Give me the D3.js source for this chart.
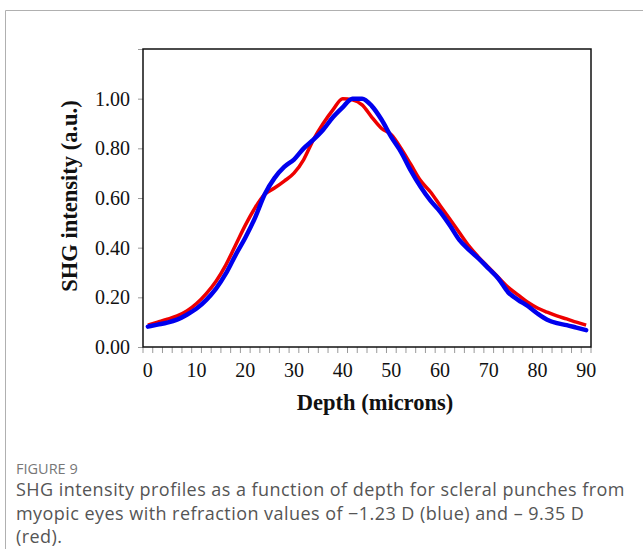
<!DOCTYPE html>
<html>
<head>
<meta charset="utf-8">
<script src="https://cdn.jsdelivr.net/npm/d3@7"></script>
<style>
  body { margin: 0; background: #fff; }
  svg { display: block; }
</style>
</head>
<body>
<svg id="chart" width="643" height="549"></svg>
<script>
// depth in microns, one point every 2 microns
const depths = d3.range(0, 91, 2);
const xLabels = [0, 10, 20, 30, 40, 50, 60, 70, 80, 90];
const yTicks = [0, 0.2, 0.4, 0.6, 0.8, 1.0, 1.2];

// -9.35 D (red)
const redValues = [0.088, 0.10, 0.112, 0.125, 0.145, 0.175, 0.215, 0.265, 0.33, 0.41,
  0.49, 0.56, 0.615, 0.64, 0.668, 0.70, 0.755, 0.835, 0.90, 0.955,
  1.00, 0.995, 0.975, 0.925, 0.88, 0.855, 0.80, 0.735, 0.67, 0.625,
  0.57, 0.515, 0.46, 0.405, 0.36, 0.32, 0.28, 0.24, 0.21, 0.18,
  0.157, 0.14, 0.125, 0.113, 0.10, 0.088];

// -1.23 D (blue)
const blueValues = [0.082, 0.09, 0.098, 0.11, 0.13, 0.155, 0.19, 0.235, 0.295, 0.37,
  0.44, 0.52, 0.615, 0.68, 0.725, 0.755, 0.80, 0.835, 0.875, 0.925,
  0.965, 1.00, 1.00, 0.97, 0.915, 0.845, 0.785, 0.71, 0.645, 0.59,
  0.545, 0.49, 0.43, 0.39, 0.355, 0.315, 0.275, 0.22, 0.19, 0.165,
  0.135, 0.11, 0.096, 0.088, 0.078, 0.068];

const svg = d3.select('#chart');

// outer panel border (top + left)
svg.append('path')
  .attr('d', 'M5.5,549 L5.5,10.5 L643,10.5')
  .attr('fill', 'none')
  .attr('stroke', '#b0b0b0')
  .attr('stroke-width', 1);

const plot = { left: 143, right: 591, top: 49, bottom: 347 };

const x = d3.scaleBand()
  .domain(depths)
  .range([plot.left, plot.right]);

const y = d3.scaleLinear()
  .domain([0, 1.2])
  .range([plot.bottom, plot.top]);

const serif = '"Liberation Serif", "Times New Roman", serif';

// x ticks at category boundaries
const boundaries = depths.map(d => x(d)).concat([plot.right]);
svg.append('g').selectAll('line')
  .data(boundaries)
  .enter()
  .append('line')
  .attr('x1', d => d).attr('x2', d => d)
  .attr('y1', plot.bottom).attr('y2', plot.bottom + 6)
  .attr('stroke', '#9a9a9a')
  .attr('stroke-width', 1);

// x labels
svg.append('g').selectAll('text')
  .data(xLabels)
  .enter()
  .append('text')
  .attr('x', d => x(d) + x.bandwidth() / 2)
  .attr('y', 377)
  .attr('text-anchor', 'middle')
  .attr('font-family', serif)
  .attr('font-size', 20)
  .attr('fill', '#111')
  .text(d => d);

// y axis
const yAxis = d3.axisLeft(y)
  .tickValues(yTicks)
  .tickSize(5)
  .tickFormat(d => d < 1.1 ? d3.format('.2f')(d) : '');
const yg = svg.append('g')
  .attr('transform', `translate(${plot.left},0)`)
  .call(yAxis);
yg.select('.domain').remove();
yg.selectAll('line').attr('stroke', '#9a9a9a');
yg.selectAll('text')
  .attr('font-family', serif)
  .attr('font-size', 20)
  .attr('fill', '#111')
  .attr('x', -13);

// frame
svg.append('rect')
  .attr('x', plot.left)
  .attr('y', plot.top)
  .attr('width', plot.right - plot.left)
  .attr('height', plot.bottom - plot.top)
  .attr('fill', 'none')
  .attr('stroke', '#111')
  .attr('stroke-width', 1.5);

const line = d3.line()
  .x((d, i) => x(depths[i]) + x.bandwidth() / 2)
  .y(d => y(d))
  .curve(d3.curveMonotoneX);

svg.append('path')
  .datum(redValues)
  .attr('d', line)
  .attr('fill', 'none')
  .attr('stroke', '#ee0000')
  .attr('stroke-width', 3.5)
  .attr('stroke-linejoin', 'round');

svg.append('path')
  .datum(blueValues)
  .attr('d', line)
  .attr('fill', 'none')
  .attr('stroke', '#0000ee')
  .attr('stroke-width', 4.5)
  .attr('stroke-linejoin', 'round')
  .attr('stroke-linecap', 'round');

// axis titles
svg.append('text')
  .attr('x', (plot.left + plot.right) / 2 + 8)
  .attr('y', 410)
  .attr('text-anchor', 'middle')
  .attr('font-family', serif)
  .attr('font-weight', 'bold')
  .attr('font-size', 22.5)
  .attr('fill', '#111')
  .text('Depth (microns)');

svg.append('text')
  .attr('transform', 'translate(77,196) rotate(-90)')
  .attr('text-anchor', 'middle')
  .attr('font-family', serif)
  .attr('font-weight', 'bold')
  .attr('font-size', 22.5)
  .attr('fill', '#111')
  .text('SHG intensity (a.u.)');

// caption
const sans = '"Open Sans", "Noto Sans", sans-serif';
svg.append('text')
  .attr('x', 16)
  .attr('y', 474)
  .attr('font-family', sans)
  .attr('font-size', 14.5)
  .attr('fill', '#777')
  .text('FIGURE 9');

const captionLines = [
  'SHG intensity profiles as a function of depth for scleral punches from',
  'myopic eyes with refraction values of \u22121.23 D (blue) and \u2013 9.35 D',
  '(red).'
];
svg.append('g').selectAll('text')
  .data(captionLines)
  .enter()
  .append('text')
  .attr('x', 16)
  .attr('y', (d, i) => 496 + i * 23.5)
  .attr('font-family', sans)
  .attr('font-size', 18)
  .attr('letter-spacing', 0.45)
  .attr('fill', '#555')
  .text(d => d);
</script>
</body>
</html>
